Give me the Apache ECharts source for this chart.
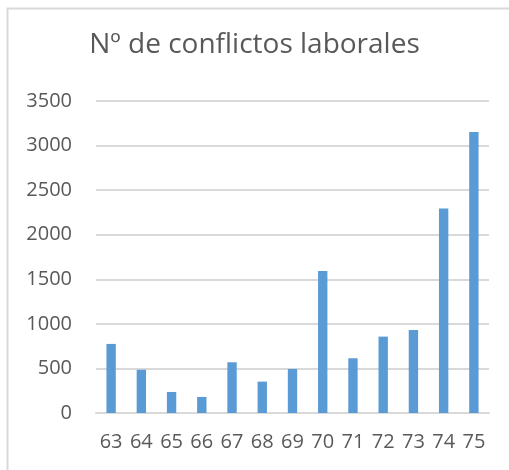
<!DOCTYPE html>
<html>
<head>
    <meta charset="utf-8">
    <script src="https://cdn.jsdelivr.net/npm/echarts@6/dist/echarts.min.js"></script>
    <style>
        html, body { margin: 0; padding: 0; background: #fff; }
        #main { width: 509px; height: 470px; }
    </style>
</head>
<body>
<div id="main"></div>
<script>
    var titleText = 'Nº de conflictos laborales';
    var years = ['63', '64', '65', '66', '67', '68', '69', '70', '71', '72', '73', '74', '75'];
    var conflictos = [775, 485, 236, 180, 569, 352, 494, 1593, 614, 857, 931, 2293, 3153];
    var yTicks = [0, 500, 1000, 1500, 2000, 2500, 3000, 3500];

    var font = '"Open Sans", sans-serif';
    var myChart = echarts.init(document.getElementById('main'));
    var option = {
        animation: false,
        backgroundColor: '#fff',
        graphic: [{
            type: 'rect',
            shape: { x: 7.5, y: 8.5, width: 520, height: 480 },
            style: { fill: 'none', stroke: '#d9d9d9', lineWidth: 2 },
            silent: true
        }],
        title: {
            text: titleText,
            left: 'center',
            top: 26,
            textStyle: { fontFamily: font, fontSize: 28, fontWeight: 'normal', color: '#595959' }
        },
        grid: { left: 96, right: 20, top: 101, bottom: 57, containLabel: false },
        xAxis: {
            type: 'category',
            data: years,
            axisLine: { lineStyle: { color: '#d9d9d9', width: 2 } },
            axisTick: { show: false },
            axisLabel: { fontFamily: font, fontSize: 20, color: '#595959', margin: 19 }
        },
        yAxis: {
            type: 'value',
            min: yTicks[0],
            max: yTicks[yTicks.length - 1],
            interval: 500,
            axisLine: { show: false },
            axisTick: { show: false },
            splitLine: { lineStyle: { color: '#d9d9d9', width: 2 } },
            axisLabel: {
                fontFamily: font, fontSize: 20, color: '#595959', margin: 24,
                formatter: function (v) { return String(v); }
            }
        },
        series: [{
            type: 'bar',
            data: conflictos,
            barWidth: '31%',
            itemStyle: { color: '#5b9bd5' }
        }]
    };
    myChart.setOption(option);
</script>
</body>
</html>
